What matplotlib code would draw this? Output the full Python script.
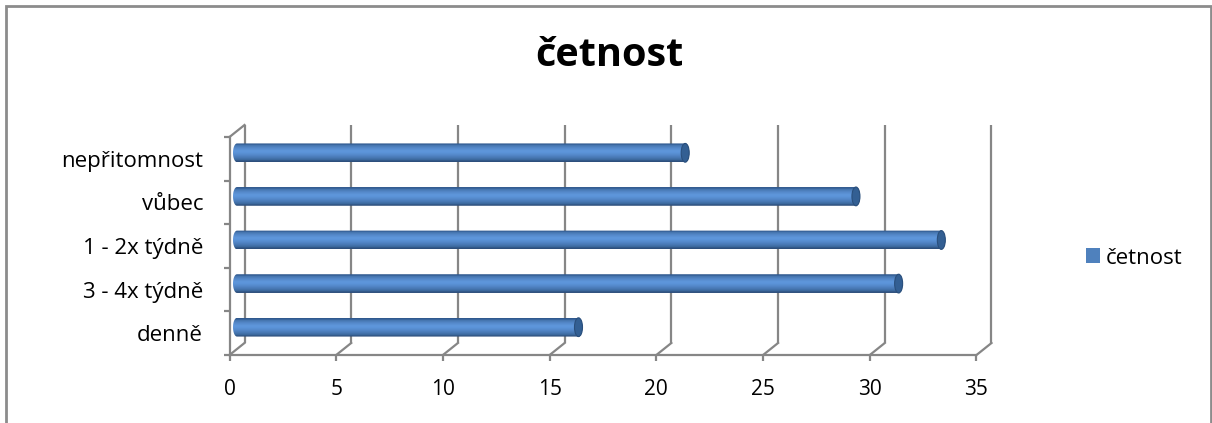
import numpy as np
import matplotlib
matplotlib.use("Agg")
import matplotlib.pyplot as plt
from matplotlib.patches import Rectangle, Ellipse, PathPatch, Patch
from matplotlib.path import Path

plt.rcParams['font.family'] = ['Open Sans', 'DejaVu Sans']

# data
categories = ['denně', '3 - 4x týdně', '1 - 2x týdně', 'vůbec', 'nepřitomnost']
values = [16, 31, 33, 29, 21]
series_name = 'četnost'
x_ticks = [0, 5, 10, 15, 20, 25, 30, 35]

grid_col = '#868686'
bar_col = '#4F81BD'

W, H = 1212, 423
fig = plt.figure(figsize=(W / 100, H / 100), dpi=100)

# front plane of the 3d box
ax = fig.add_axes([229.5 / W, 1 - 355 / H, 747 / W, 218 / H])
ax.set_xlim(0, 35)
ax.set_ylim(-0.5, 4.5)
for s in ax.spines.values():
    s.set_visible(False)

# depth of the box in data units (about 15 px right, 12 px up)
ddx = 15 * 35 / 747
ddy = 12 * 5 / 218

lw = 1.6
# back wall gridlines and floor diagonals
for v in x_ticks:
    ax.plot([v + ddx, v + ddx], [-0.5 + ddy, 4.5 + ddy], color=grid_col, lw=lw,
            clip_on=False, solid_capstyle='butt')
    ax.plot([v, v + ddx], [-0.5, -0.5 + ddy], color=grid_col, lw=lw, clip_on=False)
# front axis line, left wall edges
ax.plot([0, 35], [-0.5, -0.5], color=grid_col, lw=lw, clip_on=False)
ax.plot([0, 0], [-0.5, 4.5], color=grid_col, lw=lw, clip_on=False)
ax.plot([0, ddx], [4.5, 4.5 + ddy], color=grid_col, lw=lw, clip_on=False)

# ticks
ax.set_xticks(x_ticks)
ax.set_xticklabels([str(v) for v in x_ticks])
ax.tick_params(axis='x', length=4, width=lw, color=grid_col, pad=13, labelsize=15)
ax.set_yticks(range(len(categories)))
ax.set_yticklabels(categories)
ax.tick_params(axis='y', which='major', length=0, pad=19, labelsize=16)
ax.set_yticks(np.arange(-0.5, len(categories), 1), minor=True)
ax.tick_params(axis='y', which='minor', length=4, width=lw, color=grid_col)

# cylinder bars at half depth
bh = 0.43
rx = 4 * 35 / 747
shade = np.array([
    [0.19, 0.35, 0.56], [0.28, 0.47, 0.70], [0.32, 0.52, 0.77], [0.35, 0.56, 0.82],
    [0.37, 0.59, 0.86], [0.36, 0.58, 0.85], [0.34, 0.55, 0.81], [0.31, 0.51, 0.76],
    [0.28, 0.47, 0.70], [0.24, 0.42, 0.63], [0.18, 0.31, 0.49]])
grad = shade[:, None, :]
t = np.linspace(np.pi / 2, 3 * np.pi / 2, 30)
for i, v in enumerate(values):
    yc = i + ddy / 2
    x0 = ddx / 2
    x1 = x0 + v
    hy = bh / 2
    # outline: left half-ellipse, straight top/bottom, right half-ellipse
    left = np.column_stack([x0 + rx * np.cos(t), yc + hy * np.sin(t)])
    right = np.column_stack([x1 - rx * np.cos(t), yc - hy * np.sin(t)])
    pts = np.vstack([left, right, left[:1]])
    patch = PathPatch(Path(pts, closed=True), facecolor='none', edgecolor='none')
    ax.add_patch(patch)
    im = ax.imshow(grad, extent=[x0 - rx, x1 + rx, yc - hy, yc + hy], aspect='auto',
                   origin='upper', interpolation='bilinear', zorder=3)
    im.set_clip_path(patch)
    ax.add_patch(Ellipse((x1, yc), 2 * rx, bh, facecolor='#335F93',
                         edgecolor='#2A4F7C', lw=0.8, zorder=4))

ax.set_xlim(0, 35)
ax.set_ylim(-0.5, 4.5)
ax.set_aspect('auto')

# title
fig.text(609 / W, 1 - 56 / H, 'četnost', ha='center', va='center',
         fontsize=28.5, fontweight='bold')

# legend
fig.legend(handles=[Patch(facecolor=bar_col, edgecolor='none', label=series_name)],
           loc='center left', bbox_to_anchor=(1066 / W, 1 - 258 / H), frameon=False,
           handlelength=0.65, handleheight=0.65, handletextpad=0.25, fontsize=16)

# chart border
fig.patches.append(Rectangle((6 / W, -0.1), 1205 / W, 1.1 - 6 / H, transform=fig.transFigure,
                             fill=False, edgecolor='#8C8C8C', lw=2))

fig.savefig('out.png', dpi=100, facecolor='white')
